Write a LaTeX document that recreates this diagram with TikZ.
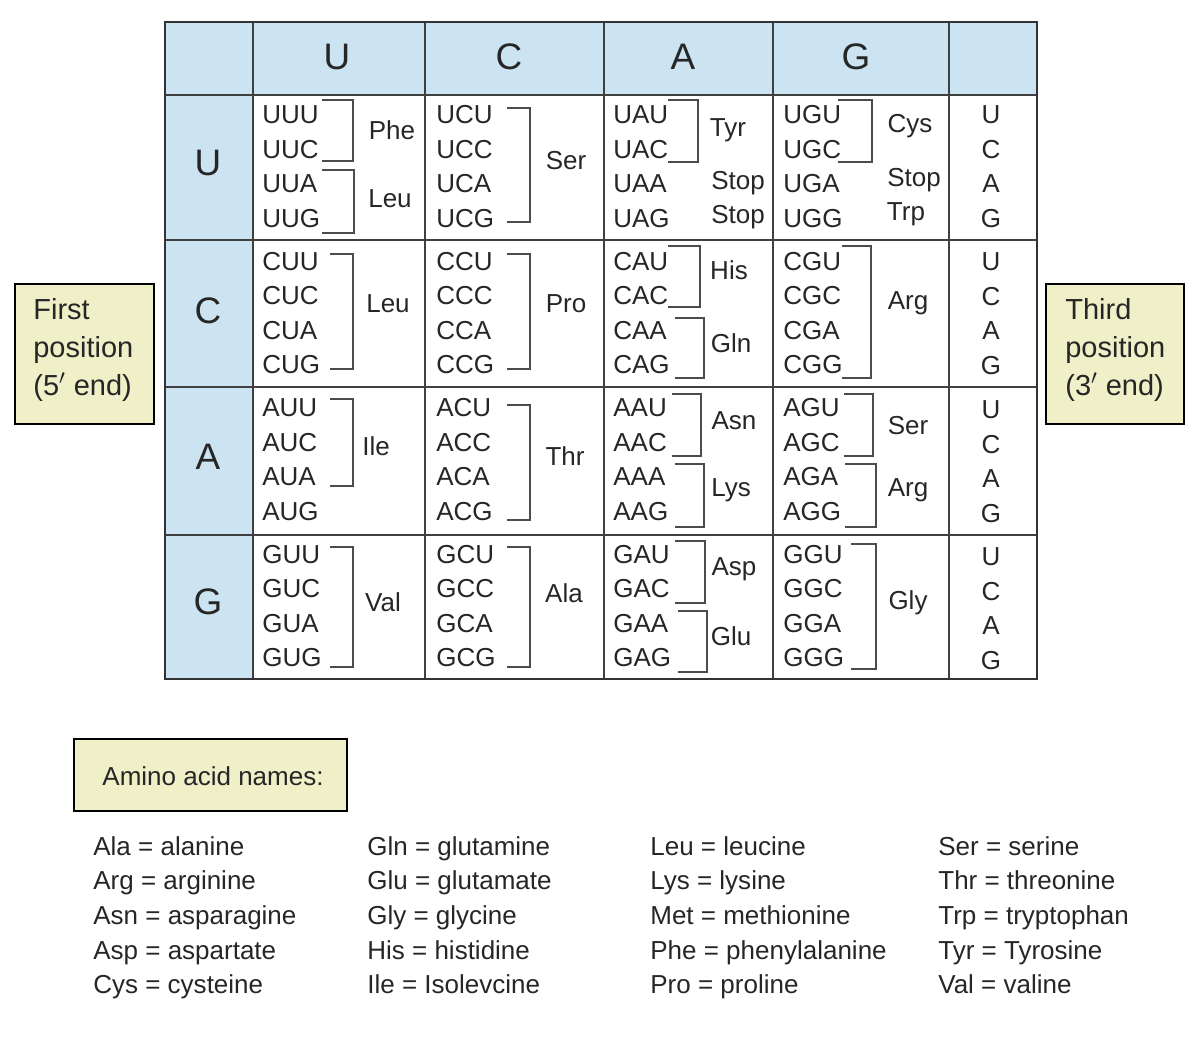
\documentclass[tikz,border=0pt]{standalone}
\usepackage{fontspec}
\setmainfont{Liberation Sans}
\definecolor{hdrblue}{HTML}{CCE3F2}
\definecolor{boxyel}{HTML}{EFF0C8}
\begin{document}
\begin{tikzpicture}[x=0.02cm,y=-0.02cm,
  cod/.style={anchor=west,inner sep=0pt,font=\fontsize{14.8}{17}\selectfont,text=black!85},
  aa/.style={inner sep=0pt,font=\fontsize{14.8}{17}\selectfont,text=black!85},
  hdr/.style={inner sep=0pt,font=\fontsize{21}{24}\selectfont,text=black!85},
  thr/.style={inner sep=0pt,font=\fontsize{14.8}{17}\selectfont,text=black!85},
  side/.style={draw=black,line width=1.6pt,fill=boxyel},
  grid/.style={draw=black!75,line width=0.8pt},
  brk/.style={draw=black!70,line width=1.1pt},
  leg/.style={anchor=base west,inner sep=0pt,font=\fontsize{14.8}{17}\selectfont,text=black!85}]
\useasboundingbox (0,0) rectangle (1200,1057);
% header fills
\fill[hdrblue] (165,22) rectangle (1037,95);
\fill[hdrblue] (165,95) rectangle (253,679);
% grid
\foreach \x in {253,425,604,773,949} \draw[grid] (\x,22) -- (\x,679);
\foreach \y in {95,240,387,535} \draw[grid] (165,\y) -- (1037,\y);
\draw[draw=black!80,line width=1.4pt] (165,22) rectangle (1037,679);
% header letters
\node[hdr] (hU) at (337,57) {U};
\node[hdr] (hC) at (509,57) {C};
\node[hdr] (hA) at (683,57) {A};
\node[hdr] (hG) at (856,57) {G};
\node[hdr] (rU) at (208,163) {U};
\node[hdr] (rC) at (208,311) {C};
\node[hdr] (rA) at (208,457) {A};
\node[hdr] (rG) at (208,602) {G};
% third position letters
\foreach \r/\yy in {0/115,1/262,2/410,3/557}{
  \foreach \b [count=\i from 0] in {U,C,A,G}{
    \node[thr] (t\r\i) at (991,{\yy+34.5*\i}) {\b};
  }
}
% codons
\foreach \f [count=\r from 0] in {U,C,A,G}{
  \foreach \s/\xx in {U/262,C/436,A/613,G/783}{
    \foreach \t [count=\i from 0] in {U,C,A,G}{
      \node[cod] (c\f\s\t) at (\xx,{115+146.5*\r+34.5*\i}) {\f\s\t};
    }
  }
}
% brackets
\foreach \a/\b/\c/\d in {
 322/353/100/161, 322/354/170/233, 507/530/108/222, 668/698/100/162, 838/872/100/162,
 330/353/254/369, 507/530/254/369, 668/700/246/307, 675/704/318/378, 842/871/246/378,
 330/353/399/486, 507/530/405/520, 672/701/394/456, 675/704/464/527, 844/873/394/456, 845/876/464/527,
 330/353/547/667, 507/530/547/667, 675/705/541/603, 678/707/611/672, 851/876/544/669}
 \draw[brk] (\a,\c) -- (\b,\c) -- (\b,\d) -- (\a,\d);
% amino acid labels
\node[aa] (a1) at (392,130) {Phe};
\node[aa] (a2) at (390,199) {Leu};
\node[aa] (a3) at (566,161) {Ser};
\node[aa] (a4) at (728,130) {Tyr};
\node[aa] (a5) at (738,183) {Stop};
\node[aa] (a6) at (738,217) {Stop};
\node[aa] (a7) at (910,126) {Cys};
\node[aa] (a8) at (914,180) {Stop};
\node[aa] (a9) at (906,214) {Trp};
\node[aa] (b1) at (388,304) {Leu};
\node[aa] (b2) at (566,304) {Pro};
\node[aa] (b3) at (729,270) {His};
\node[aa] (b4) at (731,343) {Gln};
\node[aa] (b5) at (908,303) {Arg};
\node[aa] (d1) at (376,446) {Ile};
\node[aa] (d2) at (565,456) {Thr};
\node[aa] (d3) at (734,421) {Asn};
\node[aa] (d4) at (731,490) {Lys};
\node[aa] (d5) at (908,426) {Ser};
\node[aa] (d6) at (908,490) {Arg};
\node[aa] (e1) at (383,602) {Val};
\node[aa] (e2) at (564,593) {Ala};
\node[aa] (e3) at (734,569) {Asp};
\node[aa] (e4) at (731,636) {Glu};
\node[aa] (e5) at (908,603) {Gly};
% side boxes
\draw[side] (15,284) rectangle (154,424);
\node[align=left,anchor=north west,inner sep=0pt,font=\fontsize{16.5}{21.6}\selectfont,text=black!85] (first) at (33,298) {First\\position\\(5$'$ end)};
\draw[side] (1046,284) rectangle (1184,424);
\node[align=left,anchor=north west,inner sep=0pt,font=\fontsize{16.5}{21.6}\selectfont,text=black!85] (third) at (1065,298) {Third\\position\\(3$'$ end)};
\draw[side] (74,739) rectangle (347,811);
\node[inner sep=0pt,font=\fontsize{14.8}{17}\selectfont,text=black!85] (names) at (213,776) {Amino acid names:};
% legend
\foreach \t [count=\i from 0] in {Ala = alanine,Arg = arginine,Asn = asparagine,Asp = aspartate,Cys = cysteine}
  \node[leg] (l1\i) at (93,{855+34.7*\i}) {\t};
\foreach \t [count=\i from 0] in {Gln = glutamine,Glu = glutamate,Gly = glycine,His = histidine,Ile = Isolevcine}
  \node[leg] (l2\i) at (367,{855+34.7*\i}) {\t};
\foreach \t [count=\i from 0] in {Leu = leucine,Lys = lysine,Met = methionine,Phe = phenylalanine,Pro = proline}
  \node[leg] (l3\i) at (650,{855+34.7*\i}) {\t};
\foreach \t [count=\i from 0] in {Ser = serine,Thr = threonine,Trp = tryptophan,Tyr = Tyrosine,Val = valine}
  \node[leg] (l4\i) at (938,{855+34.7*\i}) {\t};
\end{tikzpicture}
\end{document}
